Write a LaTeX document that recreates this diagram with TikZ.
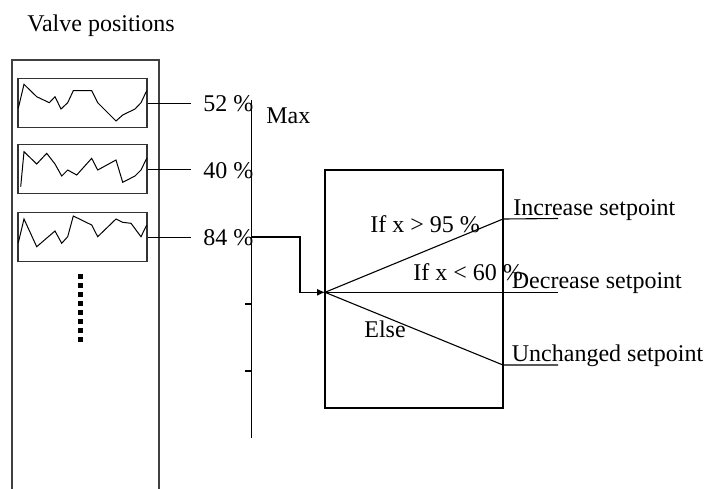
\documentclass[tikz,border=0pt]{standalone}
\usepackage{fontspec}
\setmainfont{Liberation Serif}
\usetikzlibrary{arrows.meta}
\begin{document}
\begin{tikzpicture}[x=0.5pt,y=-0.5pt,
  thin line/.style={line width=0.55pt,draw=black},
  panel/.style={line width=0.7pt,draw=black!75},
  trendbox/.style={line width=0.7pt,draw=black!80,minimum width=64.5pt,minimum height=24.5pt,inner sep=0pt},
  spark/.style={line width=0.5pt,draw=black},
  lbl/.style={anchor=base west,inner sep=0pt,font=\fontsize{12pt}{14pt}\selectfont},
  dotsq/.style={fill=black,draw=none,minimum size=2.5pt,inner sep=0pt}]
\useasboundingbox (0,0) rectangle (706,488);
% title
\node[lbl] (title) at (27,31) {Valve positions};
% outer panel (open at bottom)
\coordinate (pbl) at (12,490);
\coordinate (pbr) at (159,490);
\draw[panel] (pbl) -- (12,60) -- (159,60) -- (pbr);
% trend boxes
\node[trendbox] (b1) at (82.5,103.2) {};
\node[trendbox] (b2) at (82.5,169.2) {};
\node[trendbox] (b3) at (82.5,237.2) {};
% sparklines
\draw[spark] (18.3,108.3)--(24,84.3)--(36.7,96.7)--(49.3,102.7)--(55,96.7)--(61,109)--(67.7,102.7)--(73.3,90.7)--(91.7,90.7)--(97.7,102.7)--(116,121)--(122.7,115)--(135,109)--(141,102.7)--(146.7,90.7);
\draw[spark] (20.7,186.7)--(24,151.7)--(36.7,164)--(46.7,153.3)--(55,164)--(61.7,176)--(67.7,170)--(76.7,175)--(91.7,158.3)--(97.7,170)--(116,160)--(122.7,182.3)--(135,176)--(141,170)--(146.7,158.3);
\draw[spark] (18.3,242.7)--(24,219)--(36.7,246.7)--(55,231)--(61.7,243.3)--(67.7,236.7)--(73.3,216)--(91.7,225)--(97.7,236.7)--(116,219)--(122.7,222.3)--(131,223.3)--(141,236.7)--(146.7,225);
% dots
\foreach \i in {0,...,7} {\node[dotsq] (d\i) at (80,276+9.1*\i) {};}
% value labels
\node[lbl] (v1) at (203,111.5) {52 \%};
\node[lbl] (v2) at (203,178) {40 \%};
\node[lbl] (v3) at (203,245) {84 \%};
\draw[thin line] (b1.east) -- ++(43,0);
\draw[thin line] (b2.east) -- ++(43,0);
\draw[thin line] (b3.east) -- ++(43,0);
% axis
\coordinate (atop) at (251.7,100);
\coordinate (abot) at (251.7,438);
\draw[thin line] (atop) -- (abot);
\draw[thin line] (245,304) -- (251.7,304);
\draw[thin line] (245,371) -- (251.7,371);
\node[lbl] (max) at (266,123.3) {Max};
% decision box
\node[thin line,draw,minimum width=89pt,minimum height=119pt,inner sep=0pt] (box) at (414,289) {};
\coordinate (src) at (325,292.3);
\draw[thin line,-{Latex[length=4pt,width=3.5pt]}] (251.7,237) -- (300,237) -- (300,292.3) -- (src);
% branches
\coordinate (inc) at (503,219);
\coordinate (unc) at (503,365);
\coordinate (incE) at (558,218.5);
\coordinate (decE) at (558,292.3);
\coordinate (uncE) at (558,365);
\draw[thin line] (src) -- (inc) -- (incE);
\draw[thin line] (src) -- (decE);
\draw[thin line] (src) -- (unc) -- (uncE);
\node[lbl] (c1) at (370,232.7) {If x > 95 \%};
\node[lbl] (c2) at (413,280) {If x < 60 \%};
\node[lbl] (c3) at (364,337) {Else};
\node[lbl] (o1) at (513,215) {Increase setpoint};
\node[lbl] (o2) at (511.5,288.3) {Decrease setpoint};
\node[lbl] (o3) at (511.5,361.7) {Unchanged setpoint};
\end{tikzpicture}
\end{document}
